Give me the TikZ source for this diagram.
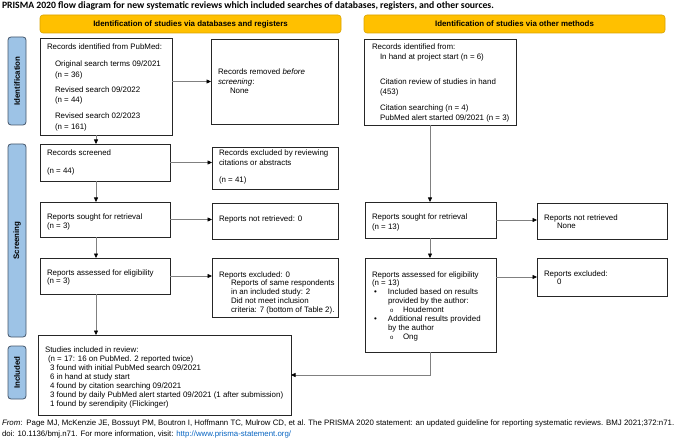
\documentclass[tikz,border=0pt]{standalone}
\usepackage{fontspec}
\setmainfont{Liberation Sans}
\newfontfamily\ttlfont{Carlito}
\usetikzlibrary{arrows.meta}
\definecolor{hdr}{HTML}{FFC000}
\definecolor{hdrb}{HTML}{D9A300}
\definecolor{side}{HTML}{9DC3E6}
\definecolor{sideb}{HTML}{45566A}
\definecolor{arr}{HTML}{808080}
\definecolor{lnk}{HTML}{0563C1}
\newcommand\txtlines[1]{\begin{tabular}[t]{@{}l@{}}#1\end{tabular}}
\tikzset{
  box/.style={draw=black!85, line width=0.8pt, fill=white, anchor=north west, inner sep=0pt, outer sep=0pt},
  hdrbox/.style={draw=hdrb, fill=hdr, line width=0.6pt, rounded corners=3pt, inner sep=0pt, outer sep=0pt, font=\fontsize{7.9}{9}\selectfont\bfseries},
  sidebox/.style={draw=sideb, fill=side, line width=0.8pt, rounded corners=3pt, inner sep=0pt, outer sep=0pt, rotate=90, minimum height=18pt, font=\fontsize{7.9}{9}\selectfont\bfseries},
  txt/.style={anchor=base west, inner sep=0pt, outer sep=0pt},
  sk105/.style={txt, font=\fontsize{7.9}{10.5}\selectfont},
  sk95/.style={txt, font=\fontsize{7.9}{9.5}\selectfont},
  sk9/.style={txt, font=\fontsize{7.9}{8.9}\selectfont},
  conn/.style={draw=arr, line width=0.6pt, -{Triangle[length=4.5pt,width=4pt,color=black]}},
}
\begin{document}
\begin{tikzpicture}[x=1pt,y=-1pt]
\useasboundingbox (0,0) rectangle (676,438);
% title
\node[txt, font=\ttlfont\fontsize{9.7}{11}\selectfont\bfseries] (title) at (2,8.5) {PRISMA 2020 flow diagram for new systematic reviews which included searches of databases, registers, and other sources.};
% headers
\node[hdrbox, minimum width=301pt, minimum height=18pt] (h1) at (190.5,24) {Identification of studies via databases and registers};
\node[hdrbox, minimum width=301pt, minimum height=18pt] (h2) at (514.5,24) {Identification of studies via other methods};
% side bars
\node[sidebox, minimum width=88pt] (s1) at (17,81) {Identification};
\node[sidebox, minimum width=193pt] (s2) at (17,240.5) {Screening};
\node[sidebox, minimum width=53pt] (s3) at (17,372.5) {Included};
% boxes
\node[box, minimum width=132pt, minimum height=97pt] (L1) at (40,38) {};
\node[box, minimum width=127pt, minimum height=85pt] (L2) at (211,39) {};
\node[box, minimum width=130pt, minimum height=37pt] (L3) at (40,144) {};
\node[box, minimum width=126pt, minimum height=42pt] (L4) at (212,147) {};
\node[box, minimum width=130pt, minimum height=35pt] (L5) at (40,202) {};
\node[box, minimum width=126pt, minimum height=36pt] (L6) at (212,203) {};
\node[box, minimum width=130pt, minimum height=36pt] (L7) at (40,258) {};
\node[box, minimum width=126pt, minimum height=59pt] (L8) at (212,258) {};
\node[box, minimum width=253pt, minimum height=80pt] (L9) at (38,335) {};
\node[box, minimum width=152pt, minimum height=86pt] (R1) at (364,39) {};
\node[box, minimum width=131pt, minimum height=36pt] (R2) at (365,202) {};
\node[box, minimum width=130pt, minimum height=36pt] (R3) at (537,203) {};
\node[box, minimum width=131pt, minimum height=94pt] (R4) at (365,258) {};
\node[box, minimum width=130pt, minimum height=38pt] (R5) at (537,258) {};
% texts
\node[sk105] (tL1) at (47,50) {\txtlines{Records identified from PubMed:\\[6.5pt]
\hspace*{8pt}Original search terms 09/2021\\
\hspace*{8pt}(n = 36)\\[4.5pt]
\hspace*{8pt}Revised search 09/2022\\
\hspace*{8pt}(n = 44)\\[5.5pt]
\hspace*{8pt}Revised search 02/2023\\
\hspace*{8pt}(n = 161)}};
\node[sk95] (tL2) at (218,75) {\txtlines{Records removed \textit{before}\\
\textit{screening}:\\
\hspace*{12pt}None}};
\node[sk105] (tL3) at (47,156) {\txtlines{Records screened\\[7.5pt]
(n = 44)}};
\node[sk95] (tL4) at (219,156) {\txtlines{Records excluded by reviewing\\
citations or abstracts\\[7.5pt]
(n = 41)}};
\node[sk95] (tL5) at (47,219) {\txtlines{Reports sought for retrieval\\
(n = 3)}};
\node[sk95] (tL6) at (219,221) {Reports not retrieved: 0};
\node[sk9] (tL7) at (47,275) {\txtlines{Reports assessed for eligibility\\
(n = 3)}};
\node[sk9] (tL8) at (219,277) {\txtlines{Reports excluded: 0\\
\hspace*{12pt}Reports of same respondents\\
\hspace*{12pt}in an included study: 2\\
\hspace*{12pt}Did not meet inclusion\\
\hspace*{12pt}criteria: 7 (bottom of Table 2).}};
\node[txt, font=\fontsize{7.9}{9.1}\selectfont] (tL9) at (45,352) {\txtlines{Studies included in review:\\
\hspace*{3pt}(n = 17: 16 on PubMed. 2 reported twice)\\
\hspace*{5pt}3 found with initial PubMed search 09/2021\\
\hspace*{5pt}6 in hand at study start\\
\hspace*{5pt}4 found by citation searching 09/2021\\
\hspace*{5pt}3 found by daily PubMed alert started 09/2021 (1 after submission)\\
\hspace*{5pt}1 found by serendipity (Flickinger)}};
\node[sk95] (tR1) at (372,50) {\txtlines{Records identified from:\\
\hspace*{8pt}In hand at project start (n = 6)\\[16pt]
\hspace*{8pt}Citation review of studies in hand\\
\hspace*{8pt}(453)\\[7pt]
\hspace*{8pt}Citation searching (n = 4)\\
\hspace*{8pt}PubMed alert started 09/2021 (n = 3)}};
\node[sk95] (tR2) at (372,219.5) {\txtlines{Reports sought for retrieval\\
(n = 13)}};
\node[sk9] (tR3) at (544,220) {\txtlines{Reports not retrieved\\
\hspace*{13pt}None}};
\node[sk9] (tR4) at (372,277) {\txtlines{Reports assessed for eligibility\\
(n = 13)\\
\hspace*{2pt}\makebox[14pt][l]{•}Included based on results\\
\hspace*{16pt}provided by the author:\\
\hspace*{18pt}\makebox[13pt][l]{\fontsize{6}{6}\selectfont o}Houdemont\\
\hspace*{2pt}\makebox[14pt][l]{•}Additional results provided\\
\hspace*{16pt}by the author\\
\hspace*{18pt}\makebox[13pt][l]{\fontsize{6}{6}\selectfont o}Ong}};
\node[sk9] (tR5) at (544,276) {\txtlines{Reports excluded:\\
\hspace*{13pt}0}};
% footer
\node[txt, font=\fontsize{7.85}{11}\selectfont] (foot) at (2,425) {\txtlines{\textit{From}:\hspace{4pt}Page MJ, McKenzie JE, Bossuyt PM, Boutron I, Hoffmann TC, Mulrow CD, et al. The PRISMA 2020 statement: an updated guideline for reporting systematic reviews. BMJ 2021;372:n71.\\
doi: 10.1136/bmj.n71. For more information, visit: \textcolor{lnk}{\underline{http://www.prisma-statement.org/}}}};
% column coordinates
\coordinate (lc) at (96,0);
\coordinate (rc) at (430,0);
% connectors
\draw[conn] (L1.east |- L2.west) -- (L2.west);
\draw[conn] (L1.south -| lc) -- (L3.north -| lc);
\draw[conn] (L3.east) -- (L3.east -| L4.west);
\draw[conn] (L3.south -| lc) -- (L5.north -| lc);
\draw[conn] (L5.east) -- (L5.east -| L6.west);
\draw[conn] (L5.south -| lc) -- (L7.north -| lc);
\draw[conn] (L7.east) -- (L7.east -| L8.west);
\draw[conn] (L7.south -| lc) -- (L9.north -| lc);
\draw[conn] (R1.south -| rc) -- (R2.north -| rc);
\draw[conn] (R2.east) -- (R2.east -| R3.west);
\draw[conn] (R2.south -| rc) -- (R4.north -| rc);
\draw[conn] (R4.east |- R5.west) -- (R5.west);
\draw[conn] (R4.south -| rc) |- (L9.east);
\end{tikzpicture}
\end{document}
